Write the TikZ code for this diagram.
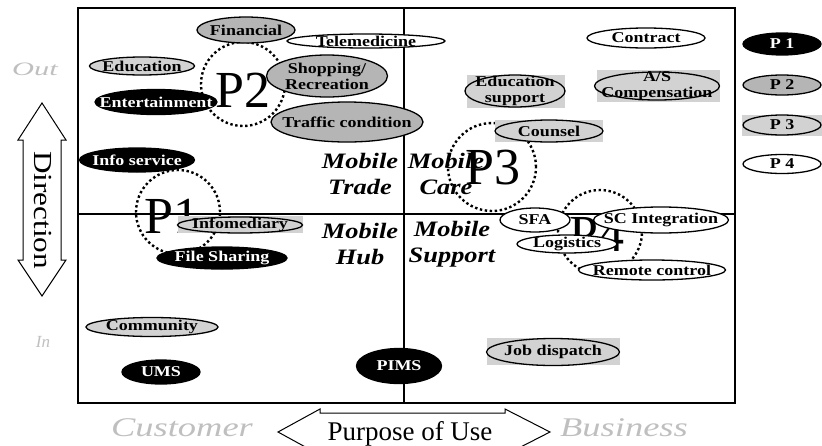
\documentclass[tikz,border=0pt]{standalone}
\usepackage{fontspec}
\setmainfont{Liberation Serif}
\newfontfamily\itemfont[FakeStretch=1.2]{Liberation Serif}
\newfontfamily\sidefont[FakeStretch=1.35]{Liberation Serif}
\newfontfamily\outfont[FakeStretch=1.6]{Liberation Serif}
\usetikzlibrary{shapes.geometric}

\tikzset{
    item/.style={ellipse, draw=black, line width=1.3pt, inner sep=0pt},
    pone/.style={item, fill=black},
    ptwo/.style={item, fill=gray!58},
    pthree/.style={item, fill=gray!35},
    pfour/.style={item, fill=white},
    txt/.style={font=\itemfont\fontsize{15}{16}\selectfont\bfseries, align=center, inner sep=0pt},
    wtxt/.style={txt, text=white},
    ring/.style={circle, draw, line width=2.4pt, dash pattern=on 2.4pt off 2.6pt, inner sep=0pt},
    bigp/.style={font=\fontsize{52}{52}\selectfont, inner sep=0pt},
    quad/.style={font=\itemfont\fontsize{22}{26}\selectfont\bfseries\itshape, align=center, inner sep=0pt},
    side/.style={font=\sidefont\fontsize{27}{27}\selectfont\itshape, text=gray!50, inner sep=0pt}
}

\begin{document}
\begin{tikzpicture}[x=1pt, y=-1pt]
    \useasboundingbox (0,0) rectangle (822,445);

    % frame and quadrants
    \draw[line width=1.5pt] (78,8) rectangle (735,403);
    \draw[line width=1.2pt] (404,8) -- (404,403);
    \draw[line width=1.2pt] (78,214) -- (735,214);

    % axes
    \draw[line width=1pt] (42,103) -- (66,140) -- (61,140) -- (61,260) -- (66,260)
        -- (42,296) -- (18,260) -- (23,260) -- (23,140) -- (18,140) -- cycle;
    \node[rotate=-90, font=\itemfont\fontsize{26}{26}\selectfont] (dir) at (43,210) {Direction};
    \draw[line width=1pt] (278,432) -- (320,409) -- (320,413) -- (505,413) -- (505,409)
        -- (550,432) -- (505,455) -- (505,451) -- (320,451) -- (320,455) -- cycle;
    \node[font=\fontsize{27}{27}\selectfont] (use) at (410,434) {Purpose of Use};
    \node[side] (cust) at (182,428) {Customer};
    \node[side] (busi) at (624,428) {Business};
    \node[side, font=\outfont\fontsize{19}{19}\selectfont\itshape] (out) at (35,69) {Out};
    \node[side, font=\fontsize{17}{17}\selectfont\itshape] (in) at (43,342) {In};

    % groups
    \node[ring, minimum size=84pt] (rtwo) at (243,84) {};
    \node[ring, minimum size=84pt] (rone) at (178,212) {};
    \node[ring, minimum size=88pt] (rthree) at (492,167) {};
    \node[ring, minimum size=84pt] (rfour) at (600,232) {};
    \node[bigp] (ltwo) at (243,90) {P2};
    \node[bigp] (lone) at (172,216) {P1};
    \node[bigp] (lthree) at (493,168) {P3};
    \node[bigp] (lfour) at (597,234) {P4};

    \node[quad] (trade) at (360,174) {Mobile\\Trade};
    \node[quad] (care) at (446,174) {Mobile\\Care};
    \node[quad] (hub) at (360,244) {Mobile\\Hub};
    \node[quad] (supp) at (452,244) {Mobile\\Support};

    % screen boxes
    \fill[gray!35] (467,75) rectangle (565,108);
    \fill[gray!35] (597,70) rectangle (720,102);
    \fill[gray!35] (495,120) rectangle (603,142);
    \fill[gray!35] (487,338) rectangle (620,365);
    \fill[gray!35] (178,216) rectangle (303,233);
    \fill[gray!35] (742,115) rectangle (822,136);

    % services
    \node[pfour, minimum width=158pt, minimum height=14pt, label={[txt]center:Telemedicine}] (tele) at (366,41) {};
    \node[ptwo, minimum width=98pt, minimum height=26pt, label={[txt]center:Financial}] (fin) at (246,30) {};
    \node[ptwo, minimum width=121pt, minimum height=42pt, label={[txt]center:Shopping/\\Recreation}] (shop) at (327,76) {};
    \node[ptwo, minimum width=152pt, minimum height=40pt, label={[txt]center:Traffic condition}] (traf) at (347,122) {};
    \node[pthree, minimum width=105pt, minimum height=18pt, label={[txt]center:Education}] (edu) at (142,66) {};
    \node[pone, minimum width=122pt, minimum height=25pt, label={[wtxt]center:Entertainment}] (ent) at (156,102) {};
    \node[pone, minimum width=115pt, minimum height=24pt, label={[wtxt]center:Info service}] (infs) at (137,160) {};
    \node[pthree, minimum width=125pt, minimum height=16pt, label={[txt]center:Infomediary}] (infm) at (240,225) {};
    \node[pone, minimum width=130pt, minimum height=22pt, label={[wtxt]center:File Sharing}] (file) at (222,258) {};
    \node[pthree, minimum width=132pt, minimum height=19pt, label={[txt]center:Community}] (comm) at (152,327) {};
    \node[pone, minimum width=78pt, minimum height=24pt, label={[wtxt]center:UMS}] (ums) at (161,372) {};
    \node[pone, minimum width=85pt, minimum height=35pt, label={[wtxt]center:PIMS}] (pims) at (399,366) {};

    \node[pfour, minimum width=118pt, minimum height=20pt, label={[txt]center:Contract}] (contr) at (646,38) {};
    \node[pthree, minimum width=100pt, minimum height=32pt, label={[txt]center:Education\\support}] (edsup) at (515,91) {};
    \node[pthree, minimum width=125pt, minimum height=28pt, label={[txt]center:A/S\\Compensation}] (asc) at (657,86) {};
    \node[pthree, minimum width=108pt, minimum height=22pt, label={[txt]center:Counsel}] (coun) at (549,131) {};
    \node[pfour, minimum width=70pt, minimum height=24pt, label={[txt]center:SFA}] (sfa) at (535,220) {};
    \node[pfour, minimum width=135pt, minimum height=26pt, label={[txt]center:SC Integration}] (sci) at (661,220) {};
    \node[pfour, minimum width=100pt, minimum height=18pt, label={[txt]center:Logistics}] (logi) at (567,244) {};
    \node[pfour, minimum width=147pt, minimum height=20pt, label={[txt]center:Remote control}] (remo) at (652,270) {};
    \node[pthree, minimum width=133pt, minimum height=27pt, label={[txt]center:Job dispatch}] (job) at (553,352) {};

    % legend
    \node[pone, minimum width=78pt, minimum height=22pt, label={[wtxt]center:P 1}] (gone) at (782,44) {};
    \node[ptwo, minimum width=78pt, minimum height=20pt, label={[txt]center:P 2}] (gtwo) at (782,85) {};
    \node[pthree, minimum width=78pt, minimum height=20pt, label={[txt]center:P 3}] (gthree) at (782,125) {};
    \node[pfour, minimum width=78pt, minimum height=19pt, label={[txt]center:P 4}] (gfour) at (782,164) {};
\end{tikzpicture}
\end{document}
